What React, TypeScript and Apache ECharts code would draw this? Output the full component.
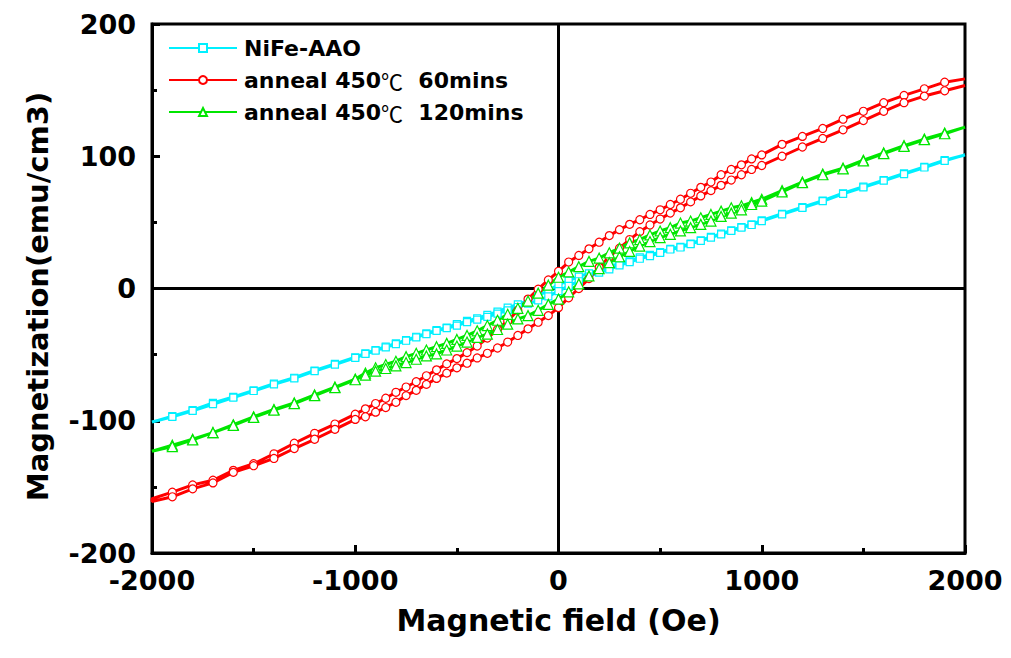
import React, { useEffect, useRef } from "react";
import * as echarts from "echarts";

// Magnetic field (Oe) grid shared by all branches
const H = [
  -2000, -1900, -1800, -1700, -1600, -1500, -1400, -1300, -1200, -1100, -1000,
  -950, -900, -850, -800, -750, -700, -650, -600, -550, -500, -450, -400, -350, -300, -250, -200, -150, -100, -50,
  0,
  50, 100, 150, 200, 250, 300, 350, 400, 450, 500, 550, 600, 650, 700, 750, 800, 850, 900, 950,
  1000, 1100, 1200, 1300, 1400, 1500, 1600, 1700, 1800, 1900, 2000,
];

// NiFe-AAO: descending-field branch and ascending-field branch (emu/cm3)
const nifeDesc = [
  -101, -96.5, -92, -86.5, -82, -77, -72, -67.5, -62, -57, -52,
  -49, -46.5, -44, -41.5, -39, -36.5, -34, -31.5, -29.5, -27, -24.5, -22.5, -20, -17.5, -14.5, -12, -9, -5.5, -1.5,
  3,
  6, 9, 11.5, 14, 16.5, 19, 21, 23.5, 25.5, 27.5, 30, 31.5, 34, 36.5, 39, 41.5, 44, 46.5, 48.5,
  51.5, 56.5, 61.5, 66.5, 72, 77, 82, 87, 92, 97, 101,
];
const nifeAsc = [
  -101.5, -97, -92.5, -87.5, -82.5, -77.5, -72.5, -68, -62.5, -57.5, -52.5,
  -49.5, -47, -44.5, -42, -39.5, -37, -34.5, -32, -30, -28, -25.5, -23.5, -21.5, -19, -16.5, -14, -11.5, -9, -6,
  -2,
  2, 5.5, 9, 12, 14.5, 17.5, 20, 22.5, 24.5, 27, 29.5, 31, 33.5, 36, 38.5, 41, 43.5, 46, 48,
  51, 56, 61, 66, 71.5, 76.5, 81.5, 86.5, 91.5, 96.5, 101,
];

// anneal 450℃ 60mins
const a60Desc = [
  -159, -154, -148.5, -145, -137.5, -132.5, -125, -117, -109.5, -102.5, -95,
  -91, -87, -83, -78.5, -74.5, -70.5, -66, -61.5, -57, -53, -48.5, -43.5, -37.5, -31, -24.5, -16.5, -8, -0.5, 6.5,
  13,
  20, 25, 30, 35, 40, 44.5, 48.5, 52, 56, 59.5, 63.5, 67.5, 72, 76.5, 80.5, 86, 90, 93.5, 98,
  101, 109, 115, 121, 128, 134, 140.5, 146, 151, 156, 158.5,
];
const a60Asc = [
  -161, -157.5, -151.5, -147, -139, -134, -128.5, -121, -114, -106.5, -99,
  -97, -93.5, -90, -86, -81, -77, -72.5, -68, -64, -60, -56.5, -52.5, -49, -45, -40.5, -35.5, -30.5, -25.5, -20.5,
  -14.5,
  -7, 0, 7.5, 16, 24, 30.5, 37, 43, 48, 52.5, 57, 61, 65.5, 70, 74, 78, 82, 86, 90,
  93, 100, 107, 113.5, 120, 127, 134, 140.5, 145.5, 149.5, 153.5,
];

// anneal 450℃ 120mins
const a120Desc = [
  -123, -118.5, -114, -109, -103, -97, -91.5, -86.5, -80.5, -74.5, -68.5,
  -64, -60, -57.5, -55, -51.5, -49, -46.5, -44, -41.5, -38.5, -35.5, -32, -28, -24, -19.5, -15, -9.5, -3.5, 2.5,
  8.5,
  12.5, 16.5, 20.5, 23, 27, 30.5, 34.5, 37, 40.5, 43.5, 46, 49.5, 51, 53.5, 56, 58.5, 61, 62.5, 65,
  67.5, 74, 80.5, 86.5, 91, 97, 102.5, 108, 113, 117.5, 122,
];
const a120Asc = [
  -123, -119.5, -114.5, -109, -103.5, -97.5, -92, -87, -81, -75, -69,
  -65.5, -62.5, -60.5, -58.5, -56, -53.5, -51, -49.5, -46.5, -43.5, -40.5, -37, -34.5, -31, -27, -23, -20.5, -16.5, -12,
  -8,
  -2.5, 3.5, 9.5, 15, 19.5, 24, 28, 32, 35.5, 38.5, 41, 43.5, 46, 48.5, 51, 54.5, 57, 59.5, 63.5,
  66, 73, 80, 86, 90.5, 96.5, 102, 107.5, 112.5, 117, 122,
];

const seriesNames = ["NiFe-AAO", "anneal 450℃  60mins", "anneal 450℃  120mins"];
const xTicks = [-2000, -1000, 0, 1000, 2000];
const yTicks = [-200, -100, 0, 100, 200];

const FONT = "DejaVu Sans";

function loop(desc: number[], asc: number[]) {
  const pts: any[] = [];
  const edge = (h: number) => h === H[0] || h === H[H.length - 1];
  for (let i = H.length - 1; i >= 0; i--) {
    pts.push(edge(H[i]) ? { value: [H[i], desc[i]], symbol: "none" } : [H[i], desc[i]]);
  }
  for (let i = 0; i < H.length; i++) {
    pts.push(edge(H[i]) ? { value: [H[i], asc[i]], symbol: "none" } : [H[i], asc[i]]);
  }
  return pts;
}

export default function App() {
  const ref = useRef<HTMLDivElement>(null);
  useEffect(() => {
    if (!ref.current) return;
    const chart = echarts.init(ref.current, undefined, { renderer: "svg" });
    const mk = (name: string, color: string, symbol: string, size: number, data: any[]) => ({
      name,
      type: "line",
      data,
      symbol,
      symbolSize: size,
      showAllSymbol: true,
      clip: true,
      z: 3,
      lineStyle: { color, width: 3 },
      itemStyle: { color: "#ffffff", borderColor: color, borderWidth: 1.2 },
      emphasis: { disabled: true },
    });
    const axisCommon = {
      axisLine: { show: true, onZero: false, lineStyle: { color: "#000", width: 3 } },
      axisTick: { show: true, inside: true, length: 8, lineStyle: { color: "#000", width: 3 } },
      minorTick: { show: true, splitNumber: 2, length: 5, lineStyle: { color: "#000", width: 3 } },
      splitLine: { show: false },
    };
    chart.setOption({
      animation: false,
      backgroundColor: "#ffffff",
      grid: {
        left: 152,
        right: 46,
        top: 24,
        bottom: 105,
        show: true,
        borderColor: "#000",
        borderWidth: 3,
        backgroundColor: "transparent",
      },
      legend: {
        data: seriesNames,
        orient: "vertical",
        left: 163,
        top: 31,
        itemWidth: 68,
        itemHeight: 10,
        itemGap: 8,
        textStyle: {
          fontFamily: FONT,
          fontWeight: "bold",
          fontSize: 22,
          lineHeight: 24,
          color: "#000",
          padding: [0, 0, 0, 2],
          rich: {
            c: { fontFamily: "Noto Sans CJK SC", fontWeight: "normal", fontSize: 22, color: "#000" },
          },
        },
        formatter: (n: string) => n.replace("℃", "{c|℃}"),
      },
      xAxis: {
        type: "value",
        min: xTicks[0],
        max: xTicks[xTicks.length - 1],
        interval: 1000,
        name: "Magnetic field (Oe)",
        nameLocation: "middle",
        nameGap: 52,
        nameTextStyle: { fontFamily: FONT, fontWeight: "bold", fontSize: 30, color: "#000" },
        ...axisCommon,
        axisLabel: {
          fontFamily: FONT,
          fontWeight: "bold",
          fontSize: 27,
          color: "#000",
          margin: 14,
          formatter: (v: number) => String(v),
        },
      },
      yAxis: {
        type: "value",
        min: yTicks[0],
        max: yTicks[yTicks.length - 1],
        interval: 100,
        name: "Magnetization(emu/cm3)",
        nameLocation: "middle",
        nameGap: 100,
        nameTextStyle: {
          fontFamily: FONT,
          fontWeight: "bold",
          fontSize: 29,
          color: "#000",
          padding: [0, 16, 0, 0],
        },
        ...axisCommon,
        axisLabel: {
          fontFamily: FONT,
          fontWeight: "bold",
          fontSize: 27,
          color: "#000",
          margin: 16,
          formatter: (v: number) => String(v),
        },
      },
      series: [
        {
          name: "zero",
          type: "line",
          data: [],
          z: 1,
          markLine: {
            silent: true,
            symbol: ["none", "none"],
            label: { show: false },
            z: 1,
            lineStyle: { color: "#000", width: 3, type: "solid" },
            emphasis: { disabled: true },
            data: [{ xAxis: 0 }, { yAxis: 0 }],
          },
        },
        mk(seriesNames[0], "#00F0FF", "rect", 7, loop(nifeDesc, nifeAsc)),
        mk(seriesNames[1], "#FF0000", "circle", 8, loop(a60Desc, a60Asc)),
        mk(seriesNames[2], "#00E600", "triangle", 10, loop(a120Desc, a120Asc)),
      ],
    });
    return () => chart.dispose();
  }, []);
  return (
    <div
      ref={ref}
      style={{ position: "fixed", left: 0, top: 0, width: 1011, height: 658, background: "#fff" }}
    />
  );
}
